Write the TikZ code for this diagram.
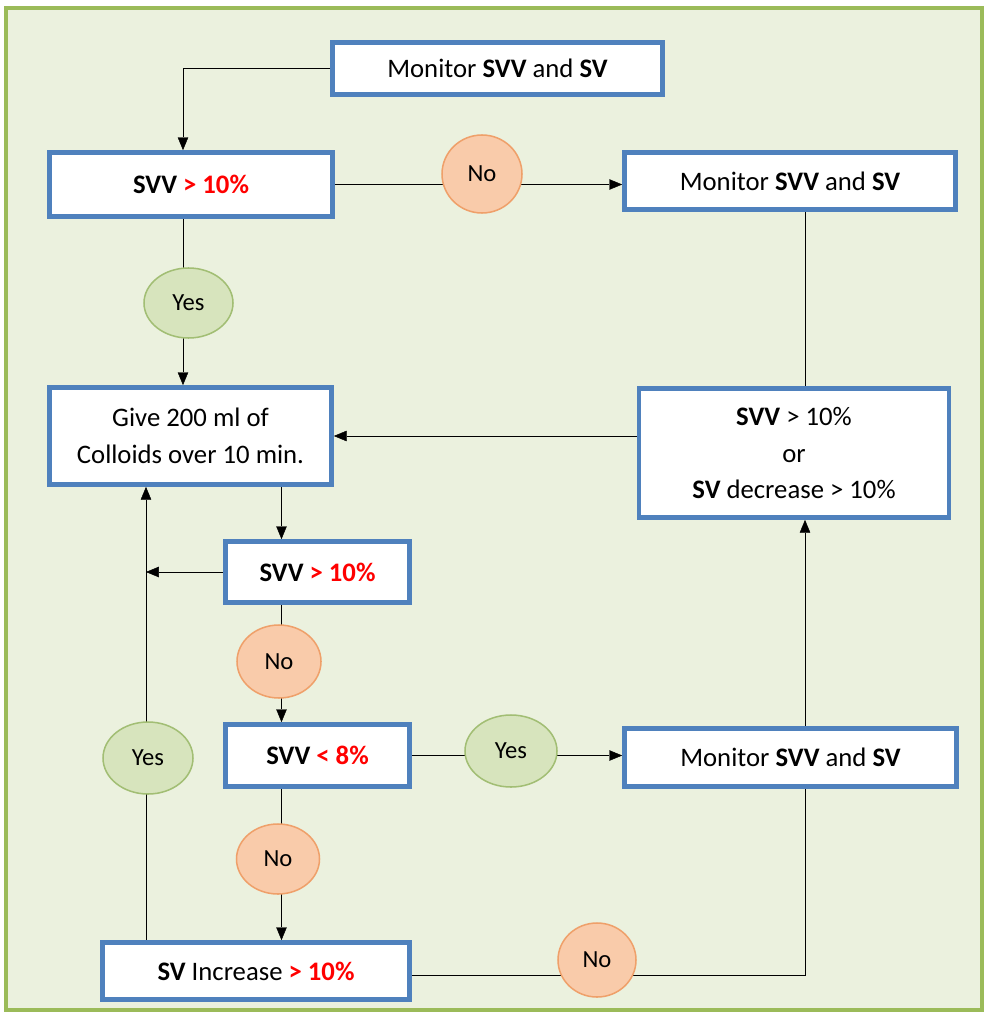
\documentclass[tikz,border=0pt]{standalone}
\usepackage{fontspec}
\setmainfont{Carlito}
\usetikzlibrary{arrows.meta,shapes.geometric,positioning}
\definecolor{panel}{HTML}{EBF1DE}
\definecolor{panelrim}{HTML}{9BBB59}
\definecolor{boxblue}{HTML}{4F81BD}
\definecolor{nofill}{HTML}{F9CBAA}
\definecolor{norim}{HTML}{EFA06A}
\definecolor{yesfill}{HTML}{D7E4BD}
\definecolor{yesrim}{HTML}{A2BE74}
\definecolor{alert}{HTML}{FF0000}
\newcommand{\redbf}[1]{\textcolor{alert}{\textbf{#1}}}
\pgfdeclarelayer{back}
\pgfdeclarelayer{wires}
\pgfsetlayers{back,wires,main}

\begin{document}
\begin{tikzpicture}[x=0.03cm,y=-0.03cm,>={Triangle[length=11pt,width=9pt]},line width=1.4pt,
    wh/.style 2 args={minimum width=#1*0.03cm,minimum height=#2*0.03cm},
    main node/.style={rectangle,draw=boxblue,line width=4pt,fill=white,inner sep=0pt,align=center,font=\fontsize{22.8}{31.5}\selectfont},
    no node/.style={ellipse,draw=norim,line width=1.3pt,fill=nofill,inner sep=0pt,font=\fontsize{21}{24}\selectfont},
    yes node/.style={ellipse,draw=yesrim,line width=1.3pt,fill=yesfill,inner sep=0pt,font=\fontsize{21}{24}\selectfont}]
    \useasboundingbox (0,0) rectangle (984,1013);

    % boxes
    \node[main node,wh={330}{52}] (m0) at (497.5,68.5) {Monitor \textbf{SVV} and \textbf{SV}};
    \node[main node,wh={283}{64}] (s1) at (191,184.5) {\textbf{SVV} \redbf{> 10\%}};
    \node[main node,wh={331}{57}] (m1) at (790,181) {Monitor \textbf{SVV} and \textbf{SV}};
    \node[main node,wh={282}{97}] (g1) at (190.5,436) {Give 200 ml of\\Colloids over 10 min.};
    \node[main node,wh={310}{129}] (c1) at (794,453) {\textbf{SVV} > 10\%\\or\\\textbf{SV} decrease > 10\%};
    \node[main node,wh={184}{61}] (s2) at (317.5,572) {\textbf{SVV} \redbf{> 10\%}};
    \node[main node,wh={184}{62}] (s3) at (317.5,755.5) {\textbf{SVV} \redbf{< 8\%}};
    \node[main node,wh={332}{58}] (m2) at (790.5,757.5) {Monitor \textbf{SVV} and \textbf{SV}};
    \node[main node,wh={307}{57}] (v1) at (256,971) {\textbf{SV} Increase \redbf{> 10\%}};

    % yes / no
    \node[yes node,wh={89}{70}] (y1) at (188.5,303) {Yes};
    \node[no node,wh={80}{78}] (n1) at (482,174) {No};
    \node[no node,wh={84}{73}] (n2) at (279,661.5) {No};
    \node[yes node,wh={92}{72}] (y2) at (511,751) {Yes};
    \node[yes node,wh={90}{72}] (y3) at (148,758) {Yes};
    \node[no node,wh={83}{70}] (n3) at (278,859) {No};
    \node[no node,wh={78}{74}] (n4) at (597,960) {No};

    % rails
    \coordinate (tx) at (183,0);
    \coordinate (lx) at (146,0);
    \coordinate (cx) at (281.5,0);
    \coordinate (rx) at (805,0);

    \begin{pgfonlayer}{back}
        \fill[white] (0,0) rectangle (984,1013);
        \draw[panelrim,fill=panel,line width=3pt] (6,8) rectangle (982,1010);
    \end{pgfonlayer}

    \begin{pgfonlayer}{wires}
        \draw[->] (m0.west) -| (s1.north -| tx);
        \draw[->] (s1.east) -- (s1.east -| m1.west);
        \draw[->] (s1.south -| tx) -- (g1.north -| tx);
        \draw (m1.south -| rx) -- (c1.north -| rx);
        \draw[->] (g1.east -| c1.west) -- (g1.east);
        \draw[->] (g1.south -| cx) -- (s2.north -| cx);
        \draw[->] (s2.west) -- (s2.west -| lx);
        \draw[->] (v1.north -| lx) -- (g1.south -| lx);
        \draw[->] (s2.south -| cx) -- (s3.north -| cx);
        \draw[->] (s3.east) -- (s3.east -| m2.west);
        \draw[->] (s3.south -| cx) -- (v1.north -| cx);
        \draw ([yshift=-0.12cm]v1.east) -| (m2.south -| rx);
        \draw[->] (m2.north -| rx) -- (c1.south -| rx);
    \end{pgfonlayer}
\end{tikzpicture}
\end{document}
